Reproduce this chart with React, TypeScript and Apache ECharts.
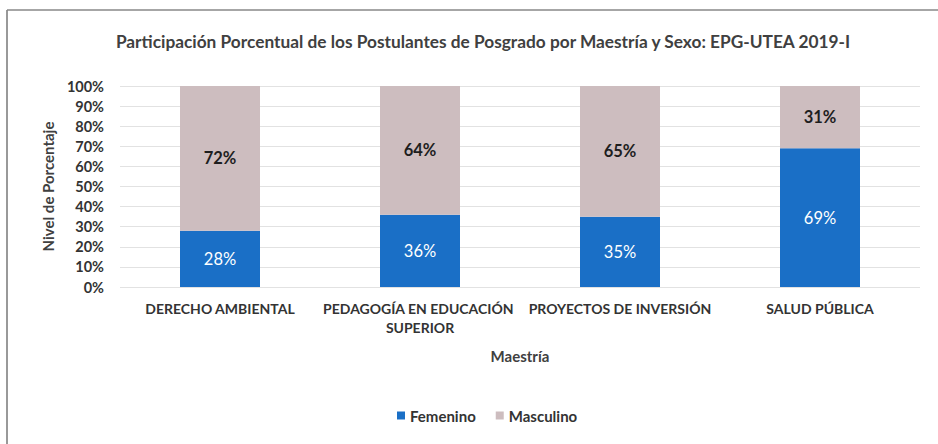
import React, { useEffect, useRef } from "react";
import * as echarts from "echarts";

const categories = [
  "DERECHO AMBIENTAL",
  "PEDAGOGÍA EN EDUCACIÓN SUPERIOR",
  "PROYECTOS DE INVERSIÓN",
  "SALUD PÚBLICA",
];
const femenino = [28, 36, 35, 69];
const masculino = [72, 64, 65, 31];
const yTicks = [0, 10, 20, 30, 40, 50, 60, 70, 80, 90, 100];

const FONT = "Lato, 'Noto Sans', sans-serif";

export default function App() {
  const ref = useRef<HTMLDivElement>(null);
  useEffect(() => {
    if (!ref.current) return;
    const chart = echarts.init(ref.current, undefined, { renderer: "svg" });
    chart.setOption({
      animation: false,
      textStyle: { fontFamily: FONT },
      title: {
        text: "Participación Porcentual de los Postulantes de Posgrado por Maestría y Sexo: EPG-UTEA 2019-I",
        left: 478,
        textAlign: "center",
        top: 28,
        textStyle: { fontFamily: FONT, fontSize: 17.3, fontWeight: "bold", color: "#404040" },
      },
      graphic: [
        { type: "line", shape: { x1: 7, y1: 10, x2: 7, y2: 444 }, style: { stroke: "#777", lineWidth: 1.5 } },
        { type: "line", shape: { x1: 7, y1: 10, x2: 938, y2: 10 }, style: { stroke: "#888", lineWidth: 1.5 } },
      ],
      legend: {
        left: 392,
        top: 403,
        itemWidth: 8,
        itemHeight: 8,
        itemGap: 20,
        icon: "rect",
        textStyle: { fontFamily: FONT, fontSize: 15, fontWeight: "bold", color: "#333" },
        data: ["Femenino", "Masculino"],
      },
      grid: { left: 120, right: 18, top: 86, bottom: 157 },
      xAxis: {
        type: "category",
        data: categories,
        name: "Maestría",
        nameLocation: "middle",
        nameGap: 61,
        nameTextStyle: { fontFamily: FONT, fontSize: 15, fontWeight: "bold", color: "#404040" },
        axisLine: { show: false },
        axisTick: { show: false },
        axisLabel: {
          interval: 0,
          margin: 12,
          fontFamily: FONT,
          fontSize: 14,
          fontWeight: "bold",
          color: "#333",
          width: 220,
          overflow: "break",
          lineHeight: 19,
        },
      },
      yAxis: {
        type: "value",
        min: 0,
        max: 100,
        interval: 10,
        name: "Nivel de Porcentaje",
        nameLocation: "middle",
        nameGap: 61,
        nameTextStyle: { fontFamily: FONT, fontSize: 15, fontWeight: "bold", color: "#404040" },
        axisLabel: {
          formatter: (v: number) => (yTicks.includes(v) ? v + "%" : ""),
          fontFamily: FONT,
          fontSize: 14.5,
          fontWeight: "bold",
          color: "#333",
          margin: 16,
        },
        axisLine: { show: false },
        axisTick: { show: false },
        splitLine: { lineStyle: { color: "#e2e2e2", width: 1 } },
      },
      series: [
        {
          name: "Femenino",
          type: "bar",
          stack: "total",
          barWidth: 80,
          data: femenino,
          itemStyle: { color: "#1a6fc6" },
          label: {
            show: true,
            position: "inside",
            formatter: "{c}%",
            color: "#ffffff",
            fontFamily: FONT,
            fontSize: 16.5,
          },
        },
        {
          name: "Masculino",
          type: "bar",
          stack: "total",
          barWidth: 80,
          data: masculino,
          itemStyle: { color: "#cdbdbf" },
          label: {
            show: true,
            position: "inside",
            formatter: "{c}%",
            color: "#1e1e1e",
            fontFamily: FONT,
            fontSize: 16.5,
            fontWeight: "bold",
          },
        },
      ],
    });
    return () => chart.dispose();
  }, []);
  return (
    <div
      ref={ref}
      style={{ position: "absolute", left: 0, top: 0, width: 938, height: 444, background: "#fff" }}
    />
  );
}
